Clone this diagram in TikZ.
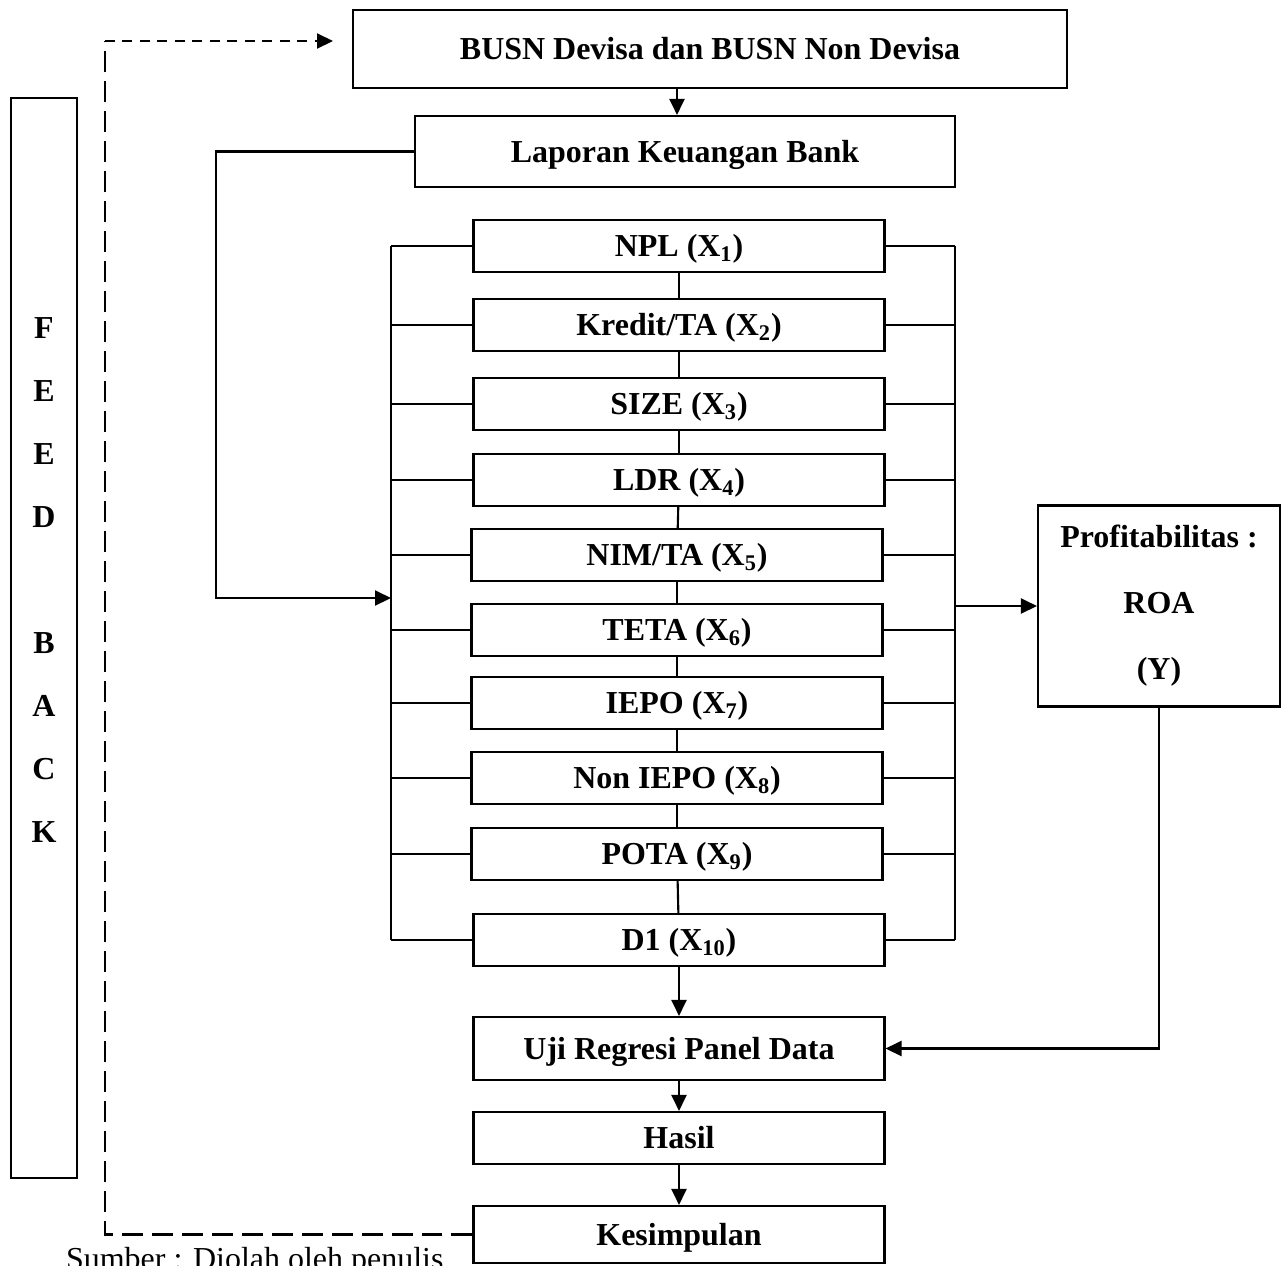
\documentclass[tikz,border=0pt]{standalone}
\usepackage{fontspec}
\setmainfont{Liberation Serif}
\usetikzlibrary{arrows.meta,calc,positioning}

\begin{document}
\begin{tikzpicture}
[x=0.02cm,y=-0.02cm,line width=1.2pt,>={Triangle[length=0.32cm,width=0.3cm]},
frame/.style = {draw, rectangle, inner sep = 0pt, font = \bfseries\fontsize{18.2}{22}\selectfont},
box/.style = {frame, text height = 12pt, text depth = 0pt},
varbox/.style = {box, minimum width = 8.22cm, minimum height = 1.04cm},
fblong/.style = {dash pattern = on 0.42cm off 0.18cm},
fbshort/.style = {dash pattern = on 0.2cm off 0.15cm},]
\useasboundingbox (0,0) rectangle (1285,1265);
\node (busn) at (710,49)[box,minimum width=14.28cm,minimum height=1.56cm] {BUSN Devisa dan BUSN Non Devisa};
\node (lap) at (685,151.5)[box,minimum width=10.8cm,minimum height=1.42cm] {Laporan Keuangan Bank};
\node (x1) at (679,246)[varbox] {NPL (X\textsubscript{1})};
\node (x2) at (679,325)[varbox] {Kredit/TA (X\textsubscript{2})};
\node (x3) at (679,404)[varbox] {SIZE (X\textsubscript{3})};
\node (x4) at (679,480)[varbox] {LDR (X\textsubscript{4})};
\node (x5) at (677,555)[varbox] {NIM/TA (X\textsubscript{5})};
\node (x6) at (677,630)[varbox] {TETA (X\textsubscript{6})};
\node (x7) at (677,703)[varbox] {IEPO (X\textsubscript{7})};
\node (x8) at (677,778)[varbox] {Non IEPO (X\textsubscript{8})};
\node (x9) at (677,854)[varbox] {POTA (X\textsubscript{9})};
\node (x10) at (679,940)[varbox] {D1 (X\textsubscript{10})};
\node (uji) at (679,1048.5)[box,minimum width=8.22cm,minimum height=1.26cm] {Uji Regresi Panel Data};
\node (hasil) at (679,1138)[varbox] {Hasil};
\node (kes) at (679,1234.5)[box,minimum width=8.22cm,minimum height=1.14cm] {Kesimpulan};
\node (roa) at (1159,606)[frame,align=center,minimum width=4.84cm,minimum height=4.02cm,font=\bfseries\fontsize{18.2}{37.5}\selectfont] {Profitabilitas :\\ROA\\(Y)};
\node (fb) at (44,638)[draw,minimum width=1.32cm,minimum height=21.6cm] {};
\node (fbtext) at (44,580)[align=center,font=\bfseries\fontsize{18.2}{35.85}\selectfont] {F\\E\\E\\D\\[35.85pt]B\\A\\C\\K};
\node (src) at (65,1269)[anchor=base west,inner sep=0pt,font=\fontsize{18.2}{22}\selectfont] {Sumber : Diolah oleh penulis};
\coordinate (lbus) at (391,0);
\coordinate (rbus) at (955,0);
\coordinate (lfeed) at (216,598);
\coordinate (fbtop) at (105,41);
\coordinate (fbend) at (333,41);
% alur utama
\draw[->] (busn.south -| x5) -- (lap.north -| x5);
\foreach \a/\b in {x1/x2,x2/x3,x3/x4,x4/x5,x5/x6,x6/x7,x7/x8,x8/x9,x9/x10}
  \draw (\a) -- (\b);
\draw[->] (x10) -- (uji);
\draw[->] (uji) -- (hasil);
\draw[->] (hasil) -- (kes);
% garis kiri dan kanan
\foreach \i in {1,...,10}{
  \draw (x\i.west) -- (x\i.west -| lbus);
  \draw (x\i.east) -- (x\i.east -| rbus);
}
\draw (x1.west -| lbus) -- (x10.west -| lbus);
\draw (x1.east -| rbus) -- (x10.east -| rbus);
\draw[->] (lap.west) -| (lfeed) -- (lfeed -| lbus);
\draw[->] (roa.west -| rbus) -- (roa.west);
\draw[->] (roa.south) |- (uji.east);
% feedback
\draw[fblong] (kes.west) -| (fbtop);
\draw[fbshort,->] (fbtop) -- (fbend);
\end{tikzpicture}
\end{document}
